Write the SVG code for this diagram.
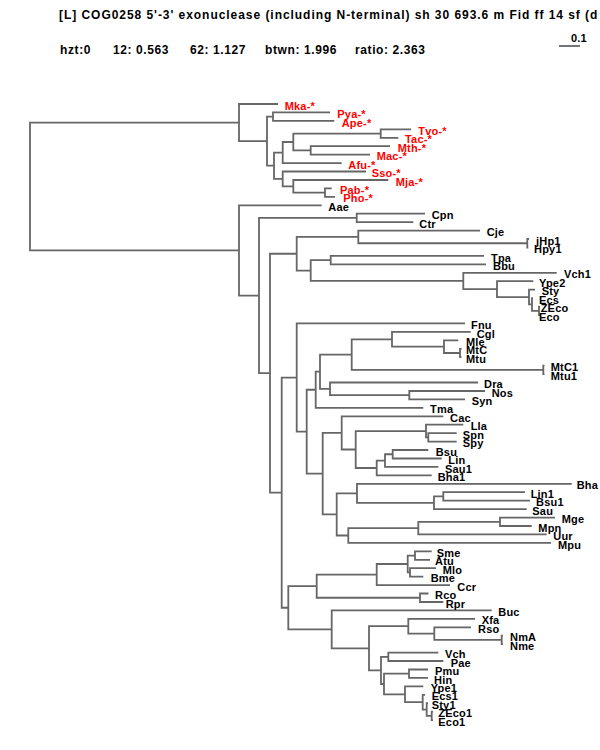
<svg xmlns="http://www.w3.org/2000/svg" width="600" height="750" viewBox="0 0 600 750">
<style>
.br{fill:none;stroke:#666;stroke-width:1.8;stroke-linejoin:miter}
.t{font-family:"Liberation Sans",Arial,sans-serif;font-weight:bold;font-size:11px;letter-spacing:0.2px;fill:#000}
.r{fill:#ff0000}
.h{font-family:"Liberation Sans",Arial,sans-serif;font-weight:bold;font-size:12px;letter-spacing:0.6px;fill:#000}
</style>
<rect width="600" height="750" fill="#fff"/>
<g id="header">
<text class="h" x="59" y="19" textLength="539" lengthAdjust="spacing">[L] COG0258 5'-3' exonuclease (including N-terminal) sh 30 693.6 m Fid ff 14 sf (d</text>
<text class="h" x="60" y="54">hzt:0</text>
<text class="h" x="113" y="54">12: 0.563</text>
<text class="h" x="190" y="54">62: 1.127</text>
<text class="h" x="265" y="54">btwn: 1.996</text>
<text class="h" x="355" y="54">ratio: 2.363</text>
</g>
<g id="scalebar">
<text class="t" x="571" y="42">0.1</text>
<path class="br" d="M559 46H580"/>
</g>
<g id="connectors">
<path class="br" d="M239 122.6H30V250.44H239"/>
<path class="br" d="M278 104H239V141.19H267"/>
<path class="br" d="M273 116.65H267V165.72H274"/>
<path class="br" d="M330 112.4H273V120.9H334.3"/>
<path class="br" d="M282.7 152.54H274V178.9H282.7"/>
<path class="br" d="M293.3 141.98H282.7V163.1H341.7"/>
<path class="br" d="M380.7 133.55H293.3V150.4H310.7"/>
<path class="br" d="M411 129.3H380.7V137.8H398.3"/>
<path class="br" d="M390 146.2H310.7V154.6H370"/>
<path class="br" d="M366 171.5H282.7V186.3H293.3"/>
<path class="br" d="M388.3 180H293.3V192.6H325"/>
<path class="br" d="M331.7 188.4H325V196.8H335"/>
<path class="br" d="M321.7 205.3H239V295.58H259"/>
<path class="br" d="M356.7 217.95H259V373.2H270"/>
<path class="br" d="M425 213.7H356.7V222.2H413.3"/>
<path class="br" d="M296.7 253.74H270V492.65H281.7"/>
<path class="br" d="M358.3 236.93H296.7V270.56H310.7"/>
<path class="br" d="M480 230.6H358.3V243.25H527.3"/>
<path class="br" d="M529 239H527.3V247.5H528.3"/>
<path class="br" d="M330.7 260.15H310.7V280.97H463.3"/>
<path class="br" d="M484 255.9H330.7V264.4H486"/>
<path class="br" d="M556.7 272.8H463.3V289.14H497"/>
<path class="br" d="M533.3 281.2H497V297.08H529"/>
<path class="br" d="M535 289.7H529V304.45H532"/>
<path class="br" d="M533 298.1H532V310.8H539"/>
<path class="br" d="M540 306.6H539V315H540"/>
<path class="br" d="M296.7 377.55H281.7V607.75H288.3"/>
<path class="br" d="M465 323.4H296.7V431.7H306.7"/>
<path class="br" d="M315.7 389.75H306.7V473.65H322.7"/>
<path class="br" d="M320 371.7H315.7V407.8H423.3"/>
<path class="br" d="M351.7 354.56H320V388.85H330"/>
<path class="br" d="M392 339.28H351.7V369.85H543.3"/>
<path class="br" d="M470.7 331.9H392V346.65H444"/>
<path class="br" d="M458.3 340.3H444V353H460"/>
<path class="br" d="M461.5 348.8H460V357.2H461.5"/>
<path class="br" d="M544.5 365.6H543.3V374.1H544.5"/>
<path class="br" d="M478 382.5H330V395.2H409.3"/>
<path class="br" d="M485 391H409.3V399.4H465"/>
<path class="br" d="M341.7 432.91H322.7V514.4H336.7"/>
<path class="br" d="M443.3 416.3H341.7V449.52H355.7"/>
<path class="br" d="M426 431.05H355.7V467.99H376.7"/>
<path class="br" d="M463.3 424.7H426V437.4H428.3"/>
<path class="br" d="M456.7 433.2H428.3V441.6H456.7"/>
<path class="br" d="M385 460.58H376.7V475.4H431.7"/>
<path class="br" d="M392.7 454.25H385V466.9H438.3"/>
<path class="br" d="M428.3 450H392.7V458.5H441.7"/>
<path class="br" d="M357 493.29H336.7V535.5H348.3"/>
<path class="br" d="M571.7 483.8H357V502.78H434"/>
<path class="br" d="M443.3 496.45H434V509.1H526.7"/>
<path class="br" d="M525 492.2H443.3V500.7H530"/>
<path class="br" d="M418.3 528.1H348.3V542.9H551"/>
<path class="br" d="M500 521.8H418.3V534.4H546.7"/>
<path class="br" d="M555 517.6H500V526H531.7"/>
<path class="br" d="M316.7 586.15H288.3V629.35H331.7"/>
<path class="br" d="M376.7 574.54H316.7V597.75H420"/>
<path class="br" d="M407.7 563.98H376.7V585.1H450"/>
<path class="br" d="M415 555.55H407.7V572.4H410"/>
<path class="br" d="M431.7 551.3H415V559.8H430"/>
<path class="br" d="M436 568.2H410V576.6H423.3"/>
<path class="br" d="M428.5 593.5H420V602H443.3"/>
<path class="br" d="M491.7 610.4H331.7V648.3H369"/>
<path class="br" d="M408.3 626.2H369V670.4H381"/>
<path class="br" d="M475 618.8H408.3V633.63H434.3"/>
<path class="br" d="M471 627.3H434.3V639.95H501.7"/>
<path class="br" d="M503 635.7H501.7V644.2H503"/>
<path class="br" d="M388.3 656.8H381V684H384"/>
<path class="br" d="M438.3 652.6H388.3V661H443.3"/>
<path class="br" d="M409 673.7H384V694.29H405"/>
<path class="br" d="M428 669.5H409V677.9H428"/>
<path class="br" d="M423.3 686.4H405V702.18H422.7"/>
<path class="br" d="M425 694.8H422.7V709.55H426.7"/>
<path class="br" d="M428 703.2H426.7V715.9H431.7"/>
<path class="br" d="M433 711.7H431.7V720.1H433"/>
</g>
<g id="n-Mka"><text class="t r" x="284.7" y="109.6">Mka-*</text></g>
<g id="n-Pya"><text class="t r" x="337.3" y="118">Pya-*</text></g>
<g id="n-Ape"><text class="t r" x="341.7" y="126.5">Ape-*</text></g>
<g id="n-Tvo"><text class="t r" x="418.3" y="134.9">Tvo-*</text></g>
<g id="n-Tac"><text class="t r" x="405" y="143.4">Tac-*</text></g>
<g id="n-Mth"><text class="t r" x="397.7" y="151.8">Mth-*</text></g>
<g id="n-Mac"><text class="t r" x="376.7" y="160.2">Mac-*</text></g>
<g id="n-Afu"><text class="t r" x="348.3" y="168.7">Afu-*</text></g>
<g id="n-Sso"><text class="t r" x="371.7" y="177.1">Sso-*</text></g>
<g id="n-Mja"><text class="t r" x="395.7" y="185.6">Mja-*</text></g>
<g id="n-Pab"><text class="t r" x="340" y="194">Pab-*</text></g>
<g id="n-Pho"><text class="t r" x="343.3" y="202.4">Pho-*</text></g>
<g id="n-Aae"><text class="t" x="328.3" y="210.9">Aae</text></g>
<g id="n-Cpn"><text class="t" x="431.7" y="219.3">Cpn</text></g>
<g id="n-Ctr"><text class="t" x="419.3" y="227.8">Ctr</text></g>
<g id="n-Cje"><text class="t" x="486.7" y="236.2">Cje</text></g>
<g id="n-jHp1"><text class="t" x="536" y="244.6">jHp1</text></g>
<g id="n-Hpy1"><text class="t" x="534" y="253.1">Hpy1</text></g>
<g id="n-Tpa"><text class="t" x="491" y="261.5">Tpa</text></g>
<g id="n-Bbu"><text class="t" x="493" y="270">Bbu</text></g>
<g id="n-Vch1"><text class="t" x="564" y="278.4">Vch1</text></g>
<g id="n-Ype2"><text class="t" x="539" y="286.8">Ype2</text></g>
<g id="n-Sty"><text class="t" x="541.7" y="295.3">Sty</text></g>
<g id="n-Ecs"><text class="t" x="539" y="303.7">Ecs</text></g>
<g id="n-ZEco"><text class="t" x="540.7" y="312.2">ZEco</text></g>
<g id="n-Eco"><text class="t" x="539" y="320.6">Eco</text></g>
<g id="n-Fnu"><text class="t" x="471" y="329">Fnu</text></g>
<g id="n-Cgl"><text class="t" x="476.7" y="337.5">Cgl</text></g>
<g id="n-Mle"><text class="t" x="466" y="345.9">Mle</text></g>
<g id="n-MtC"><text class="t" x="466" y="354.4">MtC</text></g>
<g id="n-Mtu"><text class="t" x="466" y="362.8">Mtu</text></g>
<g id="n-MtC1"><text class="t" x="550.7" y="371.2">MtC1</text></g>
<g id="n-Mtu1"><text class="t" x="550.7" y="379.7">Mtu1</text></g>
<g id="n-Dra"><text class="t" x="484" y="388.1">Dra</text></g>
<g id="n-Nos"><text class="t" x="491.7" y="396.6">Nos</text></g>
<g id="n-Syn"><text class="t" x="471.7" y="405">Syn</text></g>
<g id="n-Tma"><text class="t" x="430" y="413.4">Tma</text></g>
<g id="n-Cac"><text class="t" x="450" y="421.9">Cac</text></g>
<g id="n-Lla"><text class="t" x="470.7" y="430.3">Lla</text></g>
<g id="n-Spn"><text class="t" x="462.7" y="438.8">Spn</text></g>
<g id="n-Spy"><text class="t" x="462.7" y="447.2">Spy</text></g>
<g id="n-Bsu"><text class="t" x="435.7" y="455.6">Bsu</text></g>
<g id="n-Lin"><text class="t" x="448.3" y="464.1">Lin</text></g>
<g id="n-Sau1"><text class="t" x="445" y="472.5">Sau1</text></g>
<g id="n-Bha1"><text class="t" x="437.7" y="481">Bha1</text></g>
<g id="n-Bha"><text class="t" x="576.7" y="489.4">Bha</text></g>
<g id="n-Lin1"><text class="t" x="530.7" y="497.8">Lin1</text></g>
<g id="n-Bsu1"><text class="t" x="536" y="506.3">Bsu1</text></g>
<g id="n-Sau"><text class="t" x="532.3" y="514.7">Sau</text></g>
<g id="n-Mge"><text class="t" x="561.7" y="523.2">Mge</text></g>
<g id="n-Mpn"><text class="t" x="538.3" y="531.6">Mpn</text></g>
<g id="n-Uur"><text class="t" x="553.3" y="540">Uur</text></g>
<g id="n-Mpu"><text class="t" x="558" y="548.5">Mpu</text></g>
<g id="n-Sme"><text class="t" x="436.7" y="556.9">Sme</text></g>
<g id="n-Atu"><text class="t" x="435" y="565.4">Atu</text></g>
<g id="n-Mlo"><text class="t" x="442.7" y="573.8">Mlo</text></g>
<g id="n-Bme"><text class="t" x="430.7" y="582.2">Bme</text></g>
<g id="n-Ccr"><text class="t" x="457.3" y="590.7">Ccr</text></g>
<g id="n-Rco"><text class="t" x="435" y="599.1">Rco</text></g>
<g id="n-Rpr"><text class="t" x="445.7" y="607.6">Rpr</text></g>
<g id="n-Buc"><text class="t" x="498.3" y="616">Buc</text></g>
<g id="n-Xfa"><text class="t" x="481.7" y="624.4">Xfa</text></g>
<g id="n-Rso"><text class="t" x="478" y="632.9">Rso</text></g>
<g id="n-NmA"><text class="t" x="510" y="641.3">NmA</text></g>
<g id="n-Nme"><text class="t" x="510" y="649.8">Nme</text></g>
<g id="n-Vch"><text class="t" x="445" y="658.2">Vch</text></g>
<g id="n-Pae"><text class="t" x="450.7" y="666.6">Pae</text></g>
<g id="n-Pmu"><text class="t" x="435" y="675.1">Pmu</text></g>
<g id="n-Hin"><text class="t" x="434" y="683.5">Hin</text></g>
<g id="n-Ype1"><text class="t" x="430.7" y="692">Ype1</text></g>
<g id="n-Ecs1"><text class="t" x="431.7" y="700.4">Ecs1</text></g>
<g id="n-Sty1"><text class="t" x="431.7" y="708.8">Sty1</text></g>
<g id="n-ZEco1"><text class="t" x="438.3" y="717.3">ZEco1</text></g>
<g id="n-Eco1"><text class="t" x="438.3" y="725.7">Eco1</text></g>
</svg>
